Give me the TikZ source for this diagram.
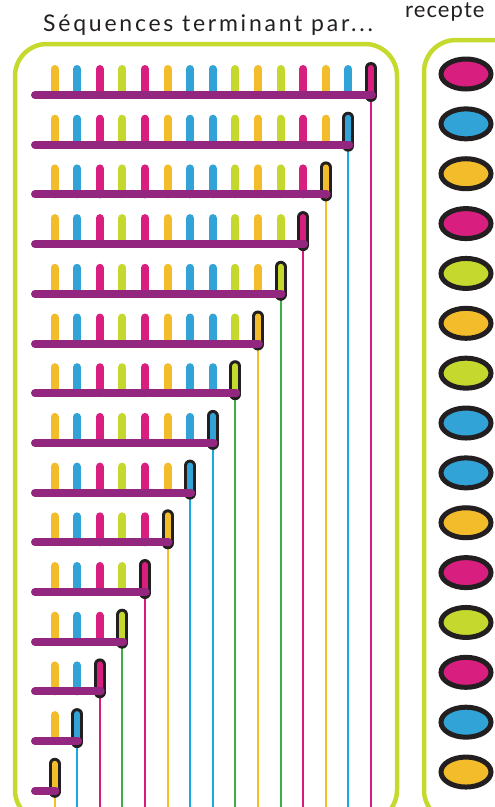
\documentclass[tikz,border=0pt]{standalone}
\usepackage{fontspec}
\setmainfont{Lato}
\usetikzlibrary{shapes.geometric}
\definecolor{SeqY}{HTML}{F2BC2A}
\definecolor{SeqB}{HTML}{31A3D6}
\definecolor{SeqM}{HTML}{D81E7E}
\definecolor{SeqG}{HTML}{C4D82D}
\definecolor{LineY}{HTML}{F5BE22}
\definecolor{LineB}{HTML}{1AAAE2}
\definecolor{LineM}{HTML}{D81B7F}
\definecolor{LineG}{HTML}{3DAE49}
\definecolor{SeqPurple}{HTML}{93267F}
\definecolor{SeqFrame}{HTML}{C6D92F}
\definecolor{SeqInk}{HTML}{231F20}

\begin{document}
\begin{tikzpicture}[
  x=1pt, y=-1pt,
  frame/.style={draw=SeqFrame, line width=4.5pt, rounded corners=32pt},
  backbone/.style={draw=SeqPurple, line width=8pt, line cap=round},
  unit/.style={line width=8pt, line cap=round},
  lastunit/.style={line width=12pt, line cap=round, draw=SeqInk},
  drop/.style={line width=2pt},
  receptor/.style={ellipse, draw=SeqInk, line width=5pt, minimum width=50pt, minimum height=30pt, inner sep=0pt},
  heading/.style={text=SeqInk, anchor=base west, inner sep=0pt, font=\fontsize{23}{27}\selectfont\addfontfeature{LetterSpace=12}}
]
\useasboundingbox (0,0) rectangle (495,807);
\draw[frame] (15,44) rectangle (397,822);
\draw[frame] (424,40) rectangle (540,822);
\node[heading] (seqtitle) at (43,31) {Séquences terminant par...};
\node[heading, font=\fontsize{22}{26}\selectfont\addfontfeature{LetterSpace=5}] (recvtitle) at (405,17) {recepte};
% one row per sequence, the last unit is outlined
\foreach \r in {1,...,15}{
  \pgfmathtruncatemacro\n{16-\r}
  \pgfmathsetmacro\yy{95+49.7*(\r-1)}
  \foreach \c [count=\i] in {Y,B,M,G,M,Y,B,B,G,Y,G,M,Y,B,M}{
    \pgfmathsetmacro\xx{54.5+22.6*(\i-1)}
    \ifnum\i<\n
      \draw[unit, draw=Seq\c] (\xx,\yy) -- ++(0,-26);
    \fi
    \ifnum\i=\n
      \coordinate (end\r) at (\xx,\yy);
      \coordinate (foot\r) at (\xx,812);
      \draw[drop, draw=Line\c] (end\r) -- (foot\r);
      \draw[lastunit] (\xx,\yy+1) -- ++(0,-28);
      \draw[unit, line width=6pt, draw=Seq\c] (\xx,\yy+1) -- ++(0,-28);
      \draw[backbone] (35,\yy) -- ([xshift=1pt]end\r);
    \fi
  }
}
% receptors
\foreach \c [count=\r] in {M,B,Y,M,G,Y,G,B,B,Y,M,G,M,B,Y}
  \node[receptor, fill=Seq\c] (recv\r) at (466,{74+49.86*(\r-1)}) {};
\end{tikzpicture}
\end{document}
